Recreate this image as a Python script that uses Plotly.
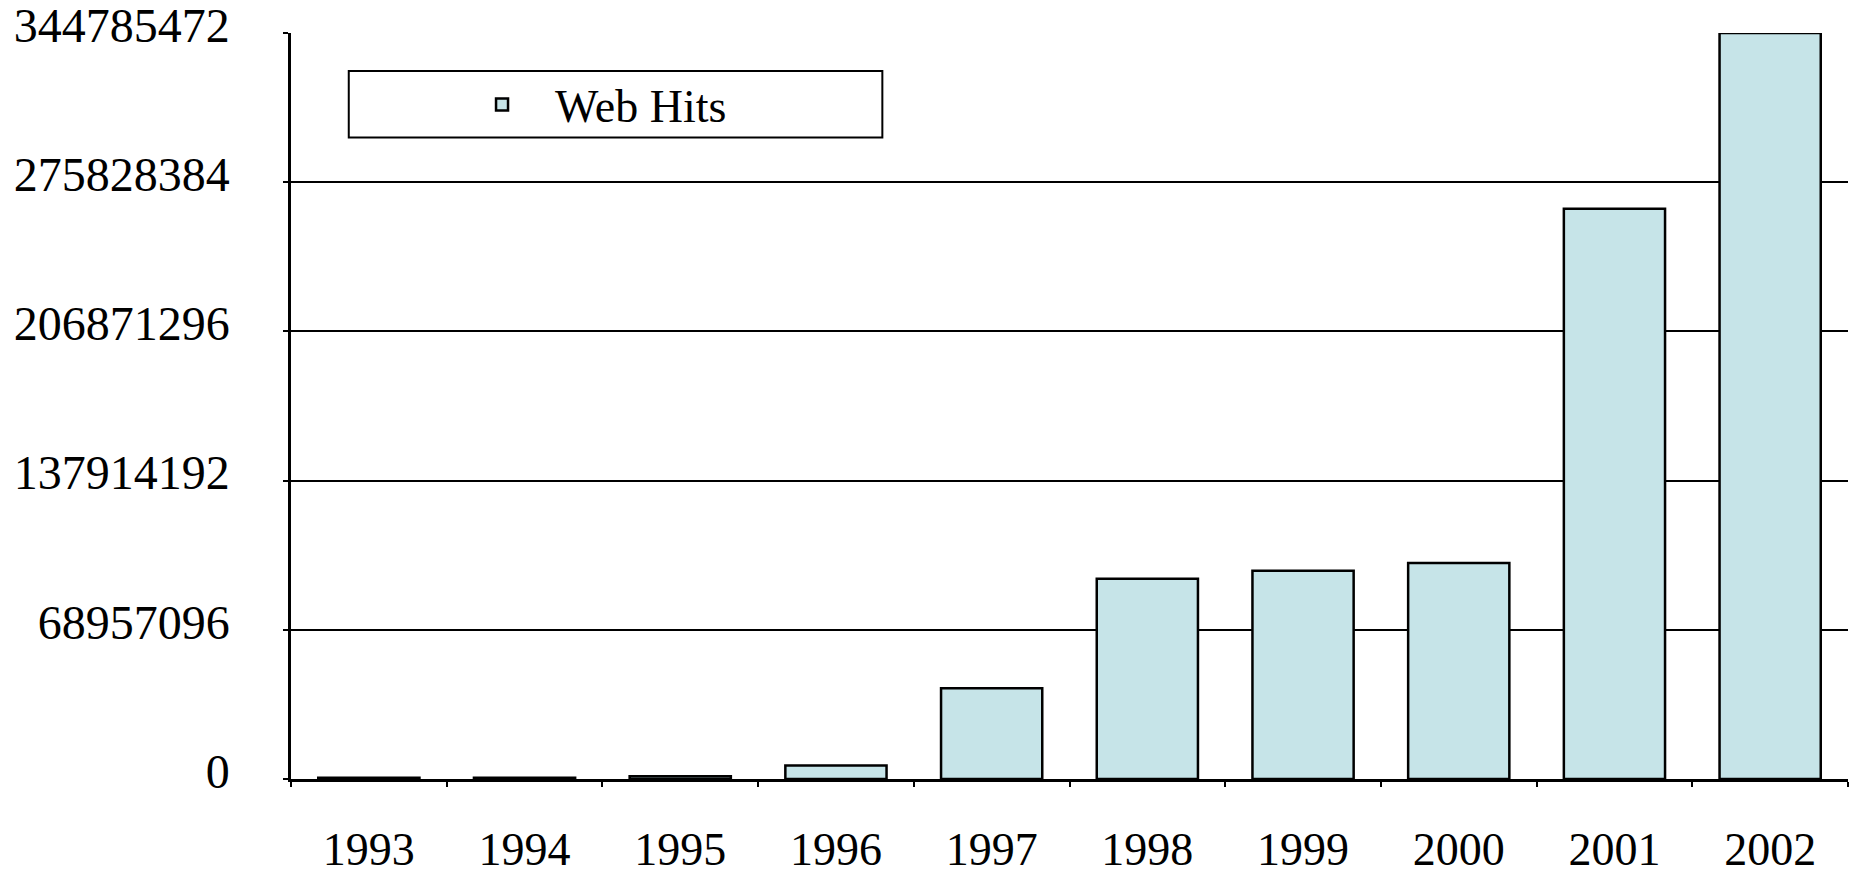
import plotly.graph_objects as go

years = ["1993", "1994", "1995", "1996", "1997", "1998", "1999", "2000", "2001", "2002"]
web_hits = [600000, 600000, 1300000, 6200000, 42000000, 92500000, 96300000, 99800000, 263500000, 344785472]
y_tickvals = [0, 68957096, 137914192, 206871296, 275828384, 344785472]
y_ticktext = ["0", "68957096", "137914192", "206871296", "275828384", "344785472"]

FONT = "Liberation Serif"

fig = go.Figure()
fig.add_trace(go.Bar(
    x=years, y=web_hits, name="Web Hits",
    marker=dict(color="#C6E4E8", line=dict(color="black", width=2.5)),
))

fig.update_layout(
    width=1860, height=877,
    margin=dict(l=283, r=20, t=25, b=106, autoexpand=False),
    paper_bgcolor="white", plot_bgcolor="white",
    bargap=0.35,
    font=dict(family=FONT, color="black", size=46),
    showlegend=True,
    legend=dict(
        x=0.1015, y=0.904, xanchor="left", yanchor="middle",
        bgcolor="rgba(0,0,0,0)", borderwidth=0,
        font=dict(family=FONT, size=46, color="black"),
        itemwidth=96,
    ),
    shapes=[dict(type="rect", xref="paper", yref="paper",
                 x0=0.0371, x1=0.3798, y0=0.8598, y1=0.949,
                 line=dict(color="black", width=2), fillcolor="white", layer="below")],
)

fig.update_xaxes(
    type="category", tickson="boundaries",
    ticks="outside", ticklen=5, tickwidth=2, tickcolor="black",
    showline=True, linecolor="black", linewidth=2.5,
    showgrid=False, ticklabelstandoff=28,
    tickfont=dict(family=FONT, size=46, color="black"),
)
fig.update_yaxes(
    range=[0, 344785472], tickmode="array", tickvals=y_tickvals, ticktext=y_ticktext,
    ticks="outside", ticklen=5, tickwidth=2, tickcolor="black",
    showline=True, linecolor="black", linewidth=2.5,
    showgrid=True, gridcolor="black", gridwidth=2, zeroline=False,
    ticklabelstandoff=44, ticklabelshift=-8, ticklabeloverflow="allow",
    tickfont=dict(family=FONT, size=48, color="black"),
)

fig.write_html("out.html")
